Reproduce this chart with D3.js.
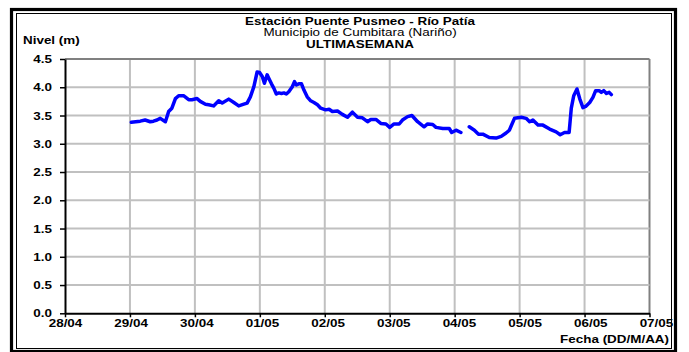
<!DOCTYPE html>
<html>
<head>
<meta charset="utf-8">
<script src="https://cdn.jsdelivr.net/npm/d3@7"></script>
<style>
  html, body { margin: 0; padding: 0; background: #fff; }
  svg { display: block; }
  text { font-family: "Liberation Sans", Arial, sans-serif; }
</style>
</head>
<body>
<svg id="chart" width="689" height="352"></svg>
<script>
// ---- data (hours since 28/04 00:00, water level in m; null = gap) ----
const horas = [
  24.5, 27.8, 29.6, 31.5, 32.7, 34.0, 35.2, 37.1, 38.3, 39.5, 40.8, 42.0, 43.8, 45.7, 46.9,
  48.8, 50.0, 51.9, 53.1, 54.9, 56.8, 58.1, 60.5, 62.4, 64.2, 66.1, 67.3, 68.5, 69.8, 71.0,
  71.9, 72.9, 73.7, 74.7, 75.3, 76.3, 77.2, 78.1, 79.0, 80.0, 80.9, 81.8, 82.7, 84.0, 84.8,
  85.5, 86.4, 87.4, 88.3, 89.5, 90.8, 92.0, 93.3, 94.5, 96.3, 97.6, 98.8, 100.7, 102.5, 104.4,
  106.2, 108.1, 109.9, 111.8, 113.0, 114.9, 116.7, 118.6, 120.0, 121.6, 123.5, 124.7, 126.6, 128.2, 130.3,
  132.7, 134.0, 135.9, 137.1, 139.6, 142.0, 142.9, 144.5, 146.3, 147.8,
  149.4, 151.3, 152.8, 154.4, 156.8, 159.3, 161.2, 163.0, 164.2, 166.1, 168.6, 170.4, 171.7, 172.9,
  174.8, 176.6, 179.1, 181.5, 183.0, 184.6, 186.3, 187.1, 188.0, 189.2, 190.2, 191.4, 192.4, 193.9,
  195.1, 196.1, 197.4, 198.2, 199.1, 200.1, 201.1, 201.9
];
const nivel = [
  3.38, 3.40, 3.42, 3.39, 3.40, 3.42, 3.45, 3.39, 3.57, 3.63, 3.80, 3.85, 3.85, 3.78, 3.78,
  3.80, 3.75, 3.70, 3.69, 3.67, 3.76, 3.72, 3.79, 3.73, 3.67, 3.70, 3.72, 3.83, 4.01, 4.27,
  4.26, 4.19, 4.07, 4.22, 4.16, 4.06, 3.98, 3.88, 3.90, 3.89, 3.90, 3.88, 3.92, 4.01, 4.10,
  4.04, 4.06, 4.06, 3.95, 3.83, 3.76, 3.73, 3.69, 3.63, 3.60, 3.61, 3.57, 3.58, 3.52, 3.47,
  3.56, 3.47, 3.46, 3.39, 3.43, 3.43, 3.36, 3.35, 3.29, 3.35, 3.35, 3.42, 3.48, 3.50, 3.39,
  3.30, 3.35, 3.34, 3.29, 3.27, 3.27, 3.20, 3.24, 3.20, null,
  3.30, 3.24, 3.17, 3.17, 3.11, 3.10, 3.13, 3.19, 3.24, 3.45, 3.47, 3.45, 3.39, 3.42,
  3.33, 3.33, 3.26, 3.21, 3.16, 3.20, 3.20, 3.63, 3.85, 3.97, 3.80, 3.64, 3.66, 3.73,
  3.82, 3.94, 3.94, 3.91, 3.94, 3.89, 3.91, 3.87
];
const diasInicio = "2013-04-28";   // first x tick (28/04)
const diasFin = "2013-05-07";      // last x tick (07/05)
const nivelTicks = [0, 0.5, 1, 1.5, 2, 2.5, 3, 3.5, 4, 4.5];
const titulo = "Estación Puente Pusmeo - Río Patía";
const subtitulo = "Municipio de Cumbitara (Nariño)";
const periodo = "ULTIMASEMANA";
const ejeY = "Nivel (m)";
const ejeX = "Fecha (DD/M/AA)";

// ---- layout ----
const SX = 1.28;      // horizontal stretch of the original glyphs
const LBL = 0.011;    // tick labels drift slightly right of their grid lines in the original
const svg = d3.select("#chart");
const pLeft = 65, pRight = 649.5, pTop = 59, pBottom = 313.3;

const t0 = new Date(diasInicio + "T00:00:00Z");
const t1 = new Date(diasFin + "T00:00:00Z");
const x = d3.scaleUtc().domain([t0, t1]).range([pLeft, pRight]);
const y = d3.scaleLinear().domain([0, 4.5]).range([pBottom, pTop]);

const puntos = horas.map((h, i) => ({ t: new Date(t0.getTime() + h * 3600e3), v: nivel[i] }));

// frame
svg.append("rect").attr("x", 0).attr("y", 0).attr("width", 689).attr("height", 352).attr("fill", "#fff");
svg.append("rect").attr("x", 11.5).attr("y", 9.5).attr("width", 664).attr("height", 342)
  .attr("fill", "none").attr("stroke", "#000").attr("stroke-width", 3.2);
svg.append("rect").attr("x", 16.5).attr("y", 13.5).attr("width", 655).attr("height", 335)
  .attr("fill", "none").attr("stroke", "#000").attr("stroke-width", 1);

function label(px, py, txt, size, weight, anchor) {
  svg.append("text")
    .attr("transform", `translate(${px},${py}) scale(${SX},1)`)
    .attr("text-anchor", anchor)
    .attr("font-size", size).attr("font-weight", weight)
    .attr("fill", "#000").text(txt);
}
label(360, 25, titulo, 10.5, "bold", "middle");
label(360, 36, subtitulo, 10.5, "normal", "middle");
label(360, 48, periodo, 10.5, "bold", "middle");
label(23, 44, ejeY, 10.5, "bold", "start");
label(669, 343, ejeX, 10.5, "bold", "end");

// grid
const xTicks = x.ticks(d3.utcDay.every(1));
svg.append("g").selectAll("line").data(xTicks.filter(d => +d > +t0)).join("line")
  .attr("x1", d => x(d)).attr("x2", d => x(d)).attr("y1", pTop).attr("y2", pBottom)
  .attr("stroke", d => +d === +t1 ? "#808080" : "#c0c0c0").attr("stroke-width", 2);
svg.append("g").selectAll("line").data(nivelTicks.filter(v => v > 0)).join("line")
  .attr("x1", pLeft).attr("x2", pRight).attr("y1", d => y(d)).attr("y2", d => y(d))
  .attr("stroke", d => d === 4.5 ? "#808080" : "#c0c0c0").attr("stroke-width", 2);

// axes
const fmtDia = d3.utcFormat("%d/%m");
const gx = svg.append("g").attr("transform", `translate(0,${pBottom})`)
  .call(d3.axisBottom(x).tickValues(xTicks).tickFormat(fmtDia).tickSize(4).tickSizeOuter(0));
const gy = svg.append("g").attr("transform", `translate(${pLeft},0)`)
  .call(d3.axisLeft(y).tickValues(nivelTicks).tickFormat(d3.format(".1f")).tickSize(5).tickSizeOuter(0));
[gx, gy].forEach(g => {
  g.select(".domain").attr("stroke", "#000").attr("stroke-width", 2);
  g.selectAll(".tick line").attr("stroke", "#000").attr("stroke-width", 1.5);
  g.selectAll(".tick text").attr("fill", "#000")
    .attr("font-family", "'Liberation Sans', Arial, sans-serif")
    .attr("font-size", 10.5).attr("font-weight", "bold");
});
gx.selectAll(".tick text").attr("y", 0).attr("dy", 0)
  .attr("transform", d => `translate(${(x(d) - pLeft) * LBL},14) scale(${SX},1)`);
gy.selectAll(".tick text").attr("x", 0).attr("dy", "0.35em")
  .attr("transform", `translate(-13,0) scale(${SX},1)`);

// series
const linea = d3.line().defined(d => d.v !== null).x(d => x(d.t)).y(d => y(d.v));
svg.append("path").datum(puntos).attr("d", linea)
  .attr("fill", "none").attr("stroke", "#0000ff").attr("stroke-width", 3.5)
  .attr("stroke-linejoin", "round").attr("stroke-linecap", "round");
</script>
</body>
</html>
